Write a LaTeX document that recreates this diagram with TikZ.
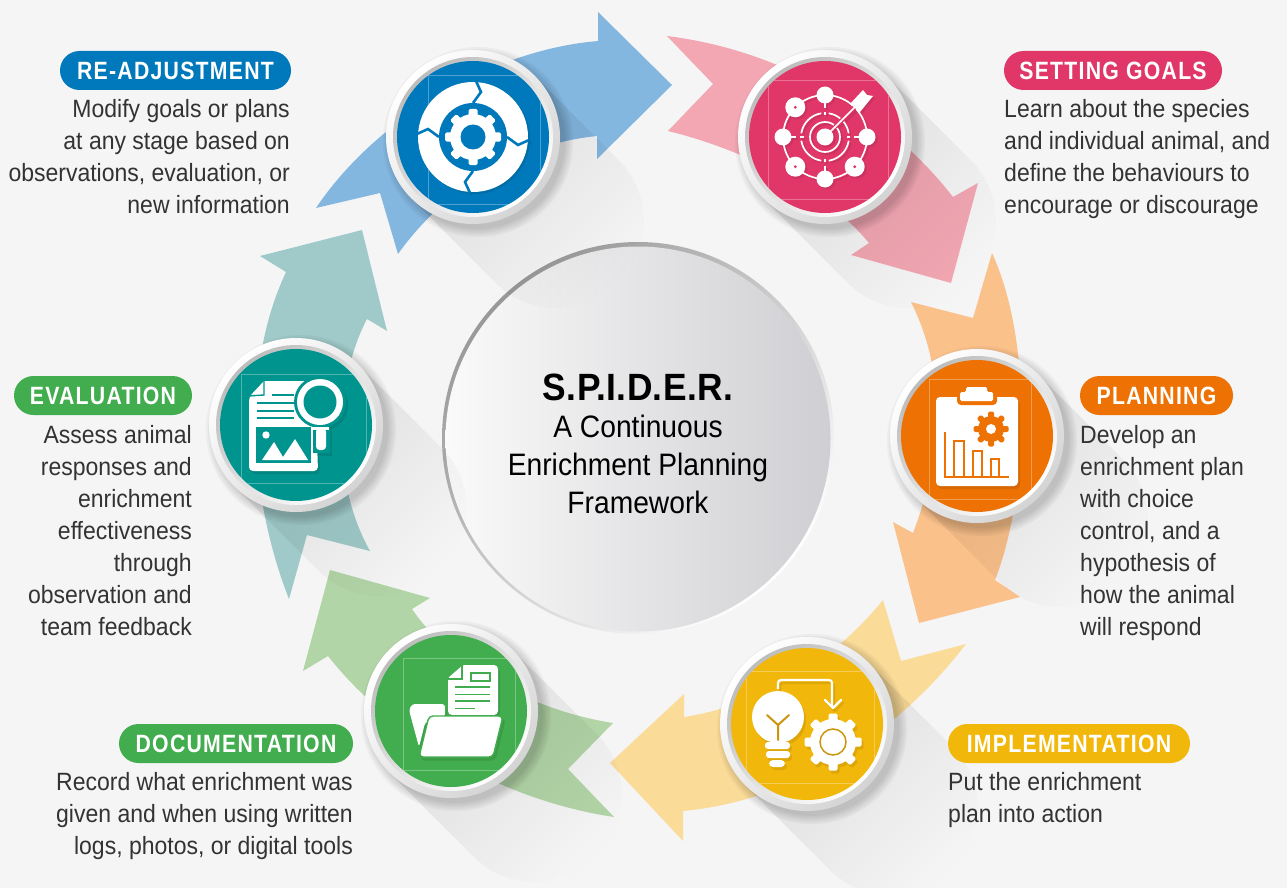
\documentclass[tikz,border=0pt]{standalone}
\usepackage{fontspec}
\usetikzlibrary{fadings}
\setmainfont{Liberation Sans}
\newfontfamily\bodyf[FakeStretch=.92]{Liberation Sans}
\newfontfamily\pillf[FakeStretch=.85,LetterSpace=5]{Liberation Sans}
\newfontfamily\headf[FakeStretch=.93,LetterSpace=1]{Liberation Sans}
\newfontfamily\midf[FakeStretch=.91]{Liberation Sans}
\definecolor{bgc}{HTML}{F5F5F5}
\definecolor{cBlue}{HTML}{0079BC}\definecolor{aBlue}{HTML}{84B7E0}\definecolor{sBlue}{HTML}{006CA8}
\definecolor{cPink}{HTML}{E03768}\definecolor{aPink}{HTML}{F2A7B3}\definecolor{sPink}{HTML}{CC325E}
\definecolor{cOrange}{HTML}{EE7203}\definecolor{aOrange}{HTML}{FBC18B}\definecolor{sOrange}{HTML}{D66703}
\definecolor{cYellow}{HTML}{F2B70B}\definecolor{aYellow}{HTML}{FADB98}\definecolor{sYellow}{HTML}{DDA70A}\definecolor{dYellow}{HTML}{C9960E}
\definecolor{cGreen}{HTML}{42AD4E}\definecolor{aGreen}{HTML}{B2D5A7}\definecolor{sGreen}{HTML}{3B9C46}
\definecolor{cTeal}{HTML}{00948F}\definecolor{aTeal}{HTML}{9FCAC9}\definecolor{sTeal}{HTML}{008580}
\definecolor{discR}{HTML}{CFCED2}
\tikzfading[name=longfade,top color=transparent!90,bottom color=transparent!100]
\tikzset{
  flow/.style={fill=#1,draw=none},
  pill/.style={fill=#1,rounded corners=19.5pt,minimum height=39pt,inner sep=0pt,text=white,font=\fontsize{25}{30}\selectfont\pillf\bfseries},
  bodyr/.style={anchor=north east,align=right,inner sep=0pt,text=black!80,font=\fontsize{25}{32}\selectfont\bodyf},
  bodyl/.style={anchor=north west,align=left,inner sep=0pt,text=black!80,font=\fontsize{25}{32}\selectfont\bodyf},
  shad/.style={black,path fading=longfade,fading angle=45},
  thin line/.style={line width=.5pt,draw=white,opacity=.3},
  ctext/.style={text=black,anchor=base,inner sep=0pt,font=\fontsize{31}{36}\selectfont\midf},
}
\newcommand\longshadow[2]{%
  \fill[shad] (#1+61.5,#2-61.5) -- (#1+145.5,#2+22.5) arc[start angle=-45,end angle=135,radius=87] -- (#1-61.5,#2+61.5) -- cycle;}
\newcommand\badgebase[3]{%
  \foreach \rr in {95,93,91,89,87}{\fill[black,opacity=.035] (#1+5,#2+5) circle[radius=\rr];}
  \shade[top color=white,bottom color=black!17,shading angle=45] (#1,#2) circle[radius=87];
  \shade[top color=black!26,bottom color=white,shading angle=45] (#1,#2) circle[radius=80];
  \fill[#3] (#1,#2) circle[radius=76];}
% gear: cx cy Rout Rroot halfw count-step colour
\newcommand\gearshape[7]{%
  \fill[#7] (#1,#2) circle[radius=#4];
  \foreach \a in {0,#6,...,359}{\fill[#7,rotate around={\a:(#1,#2)},rounded corners=1.5pt] (#1-#5,#2) rectangle (#1+#5,#2-#3);}}
\newcommand\iconBlue[2]{%
  \fill[#1] (0,0) circle[radius=55];
  \fill[#2] (0,0) circle[radius=34];
  \foreach \a in {0,90,180,270}{\draw[#2,line width=2.6pt,rotate=\a] (3,-56) -- (8,-45) -- (0,-34);}
  \gearshape{0}{0}{28}{23}{4.5}{45}{#1}
  \fill[#2] (0,0) circle[radius=12.5];}
\newcommand\iconPink[2]{%
  \draw[#1,line width=1.7pt] (0,0) circle[radius=42];
  \foreach \a in {0,90,180,270}{\fill[#1] (\a:42) circle[radius=8.5];
     \draw[#1,line width=1.7pt] (\a:35) -- (\a:29) (\a:25) -- (\a:21.5);
     \draw[#1,line width=1.7pt] (\a+9:24) arc[start angle=\a+9,end angle=\a+81,radius=24];}
  \foreach \a in {45,135,225}{\fill[#1] (\a:42) circle[radius=10];\fill[#2] (\a:42) circle[radius=1.6];}
  \draw[#1,line width=1.7pt] (0,0) circle[radius=15];
  \fill[#1] (0,0) circle[radius=8.5];
  \draw[#2,line width=4.5pt] (10,-10) -- (31,-31);
  \draw[#2,line width=6pt] (30,-30) -- (40,-40);
  \draw[#1,line width=1.7pt] (0,0) -- (34,-34);
  \fill[#1] (25,-33) -- (38,-47) -- (42,-42) -- (48,-41) -- (35,-25) -- cycle;}
\newcommand\iconOrange[2]{%
  \fill[#1,rounded corners=4pt] (-41,-39) rectangle (41,50);
  \fill[#2,rounded corners=4pt] (-20,-42) rectangle (20,-31);
  \fill[#1,rounded corners=1.5pt] (-17,-44) -- (-11,-44) -- (-11,-49) -- (10,-49) -- (10,-44) -- (16,-44) -- (16,-35) -- (-17,-35) -- cycle;
  \gearshape{14}{-7}{17.5}{13}{3}{45}{#2}
  \fill[#1] (14,-7) circle[radius=5];
  \draw[#2,line width=2pt] (-32,-4) -- (-32,41) -- (32,41);
  \draw[#2,line width=1.8pt] (-23,41) -- (-23,5) -- (-13,5) -- (-13,41) (-4,41) -- (-4,15) -- (5,15) -- (5,41) (14,41) -- (14,23) -- (22,23) -- (22,41);}
\newcommand\iconYellow[3]{%
  \fill[#1] (-29,-7) circle[radius=26];
  \fill[#1] (-50,4) -- (-8,4) -- (-17,16) -- (-42,16) -- cycle;
  \fill[#1,rounded corners=3pt] (-42,18) rectangle (-17,25);
  \fill[#1,rounded corners=3pt] (-41,27) rectangle (-17,34);
  \fill[#1,rounded corners=4pt] (-38,36) rectangle (-22,43);
  \draw[#3,line width=2pt,line cap=round,line join=round] (-40,-9) -- (-29,1) -- (-18,-9) (-29,1) -- (-29,16);
  \gearshape{26}{18}{28.5}{23}{4.5}{45}{#1}
  \draw[#3,line width=1.5pt] (26,18) circle[radius=13];
  \draw[#1,line width=2.2pt,rounded corners=3pt] (-29,-35) -- (-29,-44) -- (25,-44) -- (25,-17);
  \draw[#1,line width=2.2pt,line cap=round,line join=round] (18,-24) -- (26,-16) -- (34,-24);}
\newcommand\iconGreen[2]{%
  \fill[#1,rounded corners=1.5pt] (-3,4) -- (-3,-33) -- (12,-46) -- (41,-46) [rounded corners=4pt] -- (47,-46) -- (47,4) -- cycle;
  \draw[#2,line width=1.4pt] (11,-47) -- (11,-32) -- (-4,-32);
  \draw[#2,line width=1.7pt] (4,-24) -- (39,-24) (4,-16.5) -- (39,-16.5) (4,-10) -- (39,-10) (4,-2.5) -- (24,-2.5);
  \draw[#2,line width=1.5pt] (20,-38) rectangle (39,-30);
  \fill[#1,rounded corners=3pt] (-42,-1) -- (-39,-7) -- (-6,-7) -- (-6,6) -- (-17,6) -- (-26,12) -- (-32,36) -- cycle;
  \filldraw[draw=#2,fill=#1,line width=1.4pt,rounded corners=4pt] (-22,5) -- (52,5) -- (42,46) -- (-32,46) -- cycle;}
\newcommand\iconTeal[2]{%
  \fill[#1,rounded corners=4pt] (-47,-28) [sharp corners] -- (-32,-44) -- (19,-44) [rounded corners=4pt] -- (22,46) -- (-47,46) -- cycle;
  \draw[#2,line width=1.4pt] (-32,-45) -- (-32,-30) -- (-48,-29);
  \draw[#2,line width=1.7pt] (-24,-30) -- (-2,-30) (-39,-22) -- (-2,-22) (-39,-14) -- (-2,-14) (-39,-7) -- (-2,-7);
  \fill[#2] (-40,2) rectangle (15,38);
  \fill[#1] (-30,10) circle[radius=3.7];
  \fill[#1] (-34,35) -- (-22,17) -- (-13,32) -- (-1,14) -- (12,35) -- cycle;
  \fill[#2] (24,-23) circle[radius=26];
  \fill[#1] (24,-23) circle[radius=23];
  \fill[#2] (24,-23) circle[radius=16.5];
  \fill[#2] (17,0) rectangle (34,28);
  \fill[#1] (16,2) rectangle (33,5);
  \fill[#1,rounded corners=3.5pt] (20,3) rectangle (30,25);}
\begin{document}
\begin{tikzpicture}[x=1pt,y=-1pt]
\useasboundingbox (0,0) rectangle (1287,888);
\fill[bgc] (0,0) rectangle (1287,888);
% flow arrows
\fill[flow=aBlue] (672,85) -- (597,159) -- (597,136) .. controls (510,145) and (440,195) .. (398,254) -- (380,193) -- (316,208) .. controls (375,120) and (490,50) .. (598,41) -- (598,12) -- cycle;
\fill[flow=aPink] (667,36) .. controls (780,50) and (885,110) .. (953,197) -- (978,183) -- (951,283) -- (851,255) -- (869,243) .. controls (825,190) and (745,150) .. (668,131) -- (713,84) -- cycle;
\fill[flow=aOrange] (992,253) .. controls (1032,340) and (1030,490) .. (995,580) -- (1020,597) -- (919,623) -- (893,522) -- (913,533) .. controls (945,450) and (945,370) .. (911,302) -- (973,318) -- cycle;
\fill[flow=aYellow] (883,600) .. controls (830,665) and (760,705) .. (684,717) -- (684,694) -- (610,763) -- (683,841) -- (683,811) .. controls (800,800) and (900,730) .. (966,644) -- (901,661) -- cycle;
\fill[flow=aGreen] (330,570) -- (430,598) -- (412,609) .. controls (450,665) and (530,710) .. (613,723) -- (568,769) -- (614,817) .. controls (500,800) and (390,735) .. (328,656) -- (303,671) -- cycle;
\fill[flow=aTeal] (362,230) -- (387,331) -- (367,319) .. controls (335,380) and (330,480) .. (370,551) -- (307,535) -- (289,599) .. controls (250,500) and (240,370) .. (286,272) -- (260,256) -- cycle;
% central disc
\shade[top color=black!40,middle color=white,bottom color=white,shading angle=45] (638,438) circle[radius=196];
\shade[left color=bgc!50!white,right color=discR] (638,439) circle[radius=192.5];
% long shadows
\longshadow{473}{137}\longshadow{825}{137}\longshadow{977}{436}\longshadow{807}{724}\longshadow{451}{711}\longshadow{296}{425}
% badges
\badgebase{473}{137}{cBlue}
\begin{scope}[shift={(473,137)}]
\clip (0,0) circle[radius=76];
\draw[thin line] (-45,-62) rectangle (67,67);
\begin{scope}[shift={(2,2)}]\iconBlue{sBlue}{sBlue}\end{scope}
\iconBlue{white}{cBlue}
\end{scope}
\badgebase{825}{137}{cPink}
\begin{scope}[shift={(825,137)}]
\clip (0,0) circle[radius=76];
\draw[thin line] (-57,-57) rectangle (63,62);
\begin{scope}[shift={(2,2)}]\iconPink{sPink}{sPink}\end{scope}
\iconPink{white}{cPink}
\end{scope}
\badgebase{977}{436}{cOrange}
\begin{scope}[shift={(977,436)}]
\clip (0,0) circle[radius=76];
\draw[thin line] (-48,-57) rectangle (54,63);
\begin{scope}[shift={(2,3)}]\iconOrange{sOrange}{sOrange}\end{scope}
\iconOrange{white}{cOrange}
\end{scope}
\badgebase{807}{724}{cYellow}
\begin{scope}[shift={(807,724)}]
\clip (0,0) circle[radius=76];
\draw[thin line] (-61,-53) rectangle (67,59);
\begin{scope}[shift={(2,3)}]\iconYellow{sYellow}{sYellow}{sYellow}\end{scope}
\iconYellow{white}{cYellow}{dYellow}
\end{scope}
\badgebase{451}{711}{cGreen}
\begin{scope}[shift={(451,711)}]
\clip (0,0) circle[radius=76];
\draw[thin line] (-48,-53) rectangle (64,59);
\begin{scope}[shift={(2,3)}]\iconGreen{sGreen}{sGreen}\end{scope}
\iconGreen{white}{cGreen}
\end{scope}
\badgebase{296}{425}{cTeal}
\begin{scope}[shift={(296,425)}]
\clip (0,0) circle[radius=76];
\draw[thin line] (-55,-51) rectangle (70,58);
\begin{scope}[shift={(2,3)}]\iconTeal{sTeal}{sTeal}\end{scope}
\iconTeal{white}{cTeal}
\end{scope}
% centre text
\node (ctitle) [text=black,anchor=base,font=\fontsize{38}{44}\selectfont\headf\bfseries,inner sep=0pt] at (638,400) {S.P.I.D.E.R.};
\node (cl1) [ctext] at (638,437) {A Continuous};
\node (cl2) [ctext] at (638,475) {Enrichment Planning};
\node (cl3) [ctext] at (638,513) {Framework};
% pills and texts
\node (p1) [pill=cBlue,minimum width=231pt] at (175.5,70.5) {RE-ADJUSTMENT};
\node (t1) [bodyr] at (290,99.5) {Modify goals or plans\\at any stage based on\\observations, evaluation, or\\new information};
\node (p2) [pill=cPink,minimum width=218pt] at (1113,70.5) {SETTING GOALS};
\node (t2) [bodyl] at (1004,99.5) {Learn about the species\\and individual animal, and\\define the behaviours to\\encourage or discourage};
\node (p3) [pill=cOrange,minimum width=153pt] at (1156.5,395.5) {PLANNING};
\node (t3) [bodyl] at (1080,425.5) {Develop an\\enrichment plan\\with choice\\control, and a\\hypothesis of\\how the animal\\will respond};
\node (p4) [pill=cYellow,minimum width=242pt] at (1069,743.5) {IMPLEMENTATION};
\node (t4) [bodyl] at (948,772.5) {Put the enrichment\\plan into action};
\node (p5) [pill=cGreen,minimum width=234pt] at (236,743.5) {DOCUMENTATION};
\node (t5) [bodyr] at (353,772.5) {Record what enrichment was\\given and when using written\\logs, photos, or digital tools};
\node (p6) [pill=cGreen,minimum width=178pt] at (103,395.5) {EVALUATION};
\node (t6) [bodyr] at (192,425.5) {Assess animal\\responses and\\enrichment\\effectiveness\\through\\observation and\\team feedback};
\end{tikzpicture}
\end{document}
